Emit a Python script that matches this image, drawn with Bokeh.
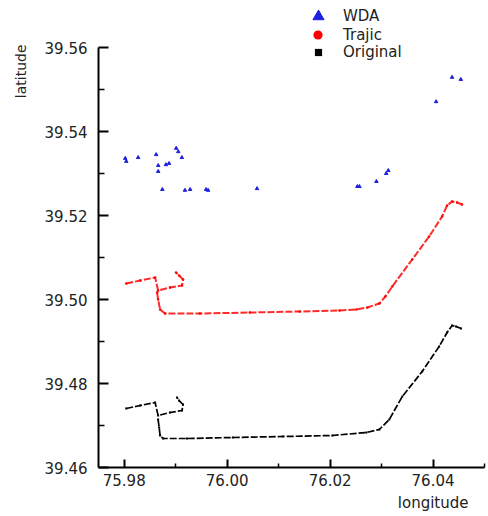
import math
from bokeh.plotting import figure
from bokeh.models import Range1d, FixedTicker, PrintfTickFormatter, Legend, LegendItem, Title
from bokeh.embed import file_html
from bokeh.resources import INLINE

# ---- data ----
wda_lon = [75.9802, 75.9804, 75.9827, 75.9862, 75.9901, 75.9905, 75.9912, 75.9866,
           75.9881, 75.9887, 75.9866, 75.9874, 75.9918, 75.9928, 75.9959, 75.9963,
           76.0058, 76.0253, 76.0257, 76.0290, 76.0309, 76.0313, 76.0406, 76.0437, 76.0454]
wda_lat = [39.5336, 39.5329, 39.5338, 39.5345, 39.5360, 39.5352, 39.5338, 39.5319,
           39.5321, 39.5324, 39.5305, 39.5262, 39.5260, 39.5262, 39.5262, 39.5260,
           39.5264, 39.5269, 39.5269, 39.5281, 39.5300, 39.5307, 39.5471, 39.5529, 39.5524]

trajic_hook_lon = [75.98039, 75.98310, 75.98600, 75.98658, 75.98891, 75.99123, 75.99142, 75.99065, 75.99007]
trajic_hook_lat = [39.50381, 39.50452, 39.50524, 39.50214, 39.50286, 39.50333, 39.50476, 39.50571, 39.50643]
trajic_main_lon = [75.98639, 75.98658, 75.98697, 75.98794, 75.99471, 76.00440, 76.01408, 76.02182,
                   76.02511, 76.02724, 76.02956, 76.03073, 76.03208, 76.03595, 76.03924, 76.04176,
                   76.04273, 76.04370, 76.04467, 76.04563]
trajic_main_lat = [39.50167, 39.50000, 39.49762, 39.49667, 39.49667, 39.49690, 39.49714, 39.49738,
                   39.49762, 39.49810, 39.49905, 39.50071, 39.50310, 39.50952, 39.51500, 39.51976,
                   39.52238, 39.52333, 39.52310, 39.52262]

orig_hook_lon = [75.98039, 75.98310, 75.98600, 75.98658, 75.98891, 75.99123, 75.99142, 75.99065, 75.99026]
orig_hook_lat = [39.47405, 39.47476, 39.47548, 39.47238, 39.47310, 39.47357, 39.47500, 39.47595, 39.47667]
orig_main_lon = [75.98658, 75.98678, 75.98697, 75.98755, 75.99220, 76.00110, 76.01078, 76.02046,
                 76.02705, 76.02956, 76.03150, 76.03402, 76.03789, 76.04118, 76.04273, 76.04370,
                 76.04447, 76.04544]
orig_main_lat = [39.47143, 39.46952, 39.46762, 39.46690, 39.46690, 39.46714, 39.46738, 39.46762,
                 39.46833, 39.46905, 39.47143, 39.47690, 39.48286, 39.48881, 39.49214, 39.49381,
                 39.49357, 39.49310]

x_major = [75.98, 76.00, 76.02, 76.04]
x_minor = [75.99, 76.01, 76.03, 76.05]
y_major = [39.46, 39.48, 39.50, 39.52, 39.54, 39.56]
y_minor = [39.47, 39.49, 39.51, 39.53, 39.55]

FONT = "DejaVu Sans"

p = figure(width=486, height=515, output_backend="svg", toolbar_location=None,
           x_range=Range1d(75.975, 76.05), y_range=Range1d(39.46, 39.56 + 47 / 4200),
           min_border_left=98, min_border_right=2, min_border_top=0, min_border_bottom=48)
p.outline_line_color = None
p.grid.visible = False
p.background_fill_color = "white"

for ax in (p.xaxis[0], p.yaxis[0]):
    ax.axis_line_width = 2
    ax.axis_line_color = "black"
    ax.major_tick_line_width = 2
    ax.minor_tick_line_width = 1.5
    ax.major_tick_out = 0
    ax.minor_tick_out = 0
    ax.major_label_text_font = FONT
    ax.major_label_text_font_size = "15px"
    ax.major_label_text_color = "#222222"
    ax.formatter = PrintfTickFormatter(format="%.2f")

p.xaxis[0].ticker = FixedTicker(ticks=x_major, minor_ticks=x_minor)
p.yaxis[0].ticker = FixedTicker(ticks=y_major, minor_ticks=y_minor)
p.xaxis[0].major_tick_in = 8
p.xaxis[0].minor_tick_in = 4
p.yaxis[0].major_tick_in = 10
p.yaxis[0].minor_tick_in = 6
p.xaxis[0].major_label_standoff = 6
p.yaxis[0].major_label_standoff = 11
p.yaxis[0].bounds = (39.46, 39.56)

# trajectories
red = "#ff2a2a"
p.line(trajic_hook_lon, trajic_hook_lat, line_color=red, line_width=2.0, line_dash="7 2")
p.line(trajic_main_lon, trajic_main_lat, line_color=red, line_width=2.0, line_dash="7 2")
r_tr = p.scatter(trajic_hook_lon + trajic_main_lon, trajic_hook_lat + trajic_main_lat,
                 marker="circle", size=2.5, fill_color="#ff0000", line_color=None)

p.line(orig_hook_lon, orig_hook_lat, line_color="black", line_width=1.7, line_dash="7 2")
p.line(orig_main_lon, orig_main_lat, line_color="black", line_width=1.7, line_dash="7 2")
r_or = p.scatter(orig_hook_lon + orig_main_lon, orig_hook_lat + orig_main_lat,
                 marker="square", size=2, fill_color="black", line_color=None)

r_wda = p.scatter(wda_lon, wda_lat, marker="triangle", size=3.5,
                  fill_color="#2020e0", line_color="#2020e0")


def make_legend(label, rend, glyph, loc, standoff):
    return Legend(items=[LegendItem(label=label, renderers=[rend])],
                  location=loc, glyph_width=glyph, glyph_height=glyph, label_height=glyph,
                  spacing=0, label_standoff=standoff, padding=0, margin=0,
                  border_line_color=None, background_fill_alpha=0,
                  label_text_font=FONT, label_text_font_size="15px",
                  label_text_color="#222222")


p.add_layout(make_legend("WDA", r_wda, 28, (206, 437), 11), "center")
p.add_layout(make_legend("Trajic", r_tr, 23, (208, 421), 14), "center")
p.add_layout(make_legend("Original", r_or, 18, (211, 406), 16), "center")

p.add_layout(Title(text="latitude", align="right", offset=44, standoff=21,
                   vertical_align="top",
                   text_font=FONT, text_font_size="14px", text_font_style="normal",
                   text_color="#222222"), "left")
p.add_layout(Title(text="longitude", align="right", offset=16, standoff=7,
                   text_font=FONT, text_font_size="15px", text_font_style="normal",
                   text_color="#222222"), "below")

open("out.html", "w").write(file_html(p, INLINE))
